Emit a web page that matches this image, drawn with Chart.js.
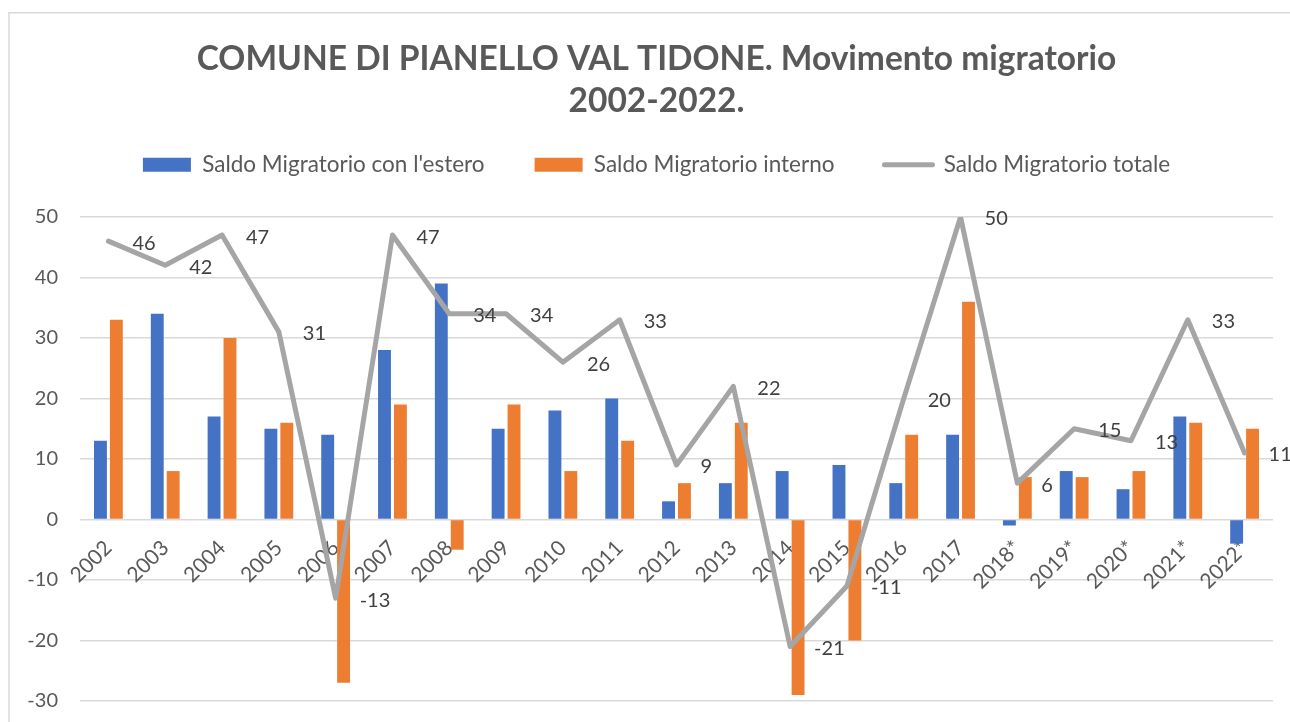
<!DOCTYPE html>
<html><head><meta charset="utf-8">
<script src="https://cdn.jsdelivr.net/npm/chart.js@4"></script>
<style>html,body{margin:0;padding:0;background:#fff}canvas{display:block}</style>
</head><body>
<canvas id="c" width="1290" height="722"></canvas>
<script>
const categories = ['2002','2003','2004','2005','2006','2007','2008','2009','2010','2011','2012','2013','2014','2015','2016','2017','2018*','2019*','2020*','2021*','2022*'];
const saldoEstero = [13,34,17,15,14,28,39,15,18,20,3,6,8,9,6,14,-1,8,5,17,-4];
const saldoInterno = [33,8,30,16,-27,19,-5,19,8,13,6,16,-29,-20,14,36,7,7,8,16,15];
const saldoTotale = [46,42,47,31,-13,47,34,34,26,33,9,22,-21,-11,20,50,6,15,13,33,11];
const yMin = -30, yMax = 50, yStep = 10;
const seriesNames = ["Saldo Migratorio con l'estero", 'Saldo Migratorio interno', 'Saldo Migratorio totale'];

const FONT = 'Lato';
const LEGEND_EXTRA = 31;

const framePlugin = {
  id: 'frame',
  afterInit(chart) {
    const lg = chart.legend;
    if (lg && !lg._wrapped) {
      const orig = lg.fit;
      lg.fit = function () { orig.call(this); this.height += LEGEND_EXTRA; };
      lg._wrapped = true;
    }
  },
  beforeDraw(chart) {
    const ctx = chart.ctx;
    ctx.save();
    ctx.strokeStyle = '#d9d9d9';
    ctx.lineWidth = 1.5;
    ctx.strokeRect(9, 12.75, chart.width + 50, chart.height + 50);
    ctx.restore();
  }
};

const lineLabels = {
  id: 'lineLabels',
  afterDatasetsDraw(chart) {
    const meta = chart.getDatasetMeta(2);
    const ctx = chart.ctx;
    ctx.save();
    ctx.font = '20px ' + FONT;
    ctx.fillStyle = '#404040';
    ctx.textAlign = 'left';
    ctx.textBaseline = 'middle';
    meta.data.forEach((pt, i) => {
      ctx.fillText(String(saldoTotale[i]), pt.x + 24, pt.y + 2);
    });
    ctx.restore();
  }
};

new Chart(document.getElementById('c'), {
  data: {
    labels: categories,
    datasets: [
      { type: 'bar', label: seriesNames[0], data: saldoEstero, backgroundColor: '#4472C4', order: 1,
        categoryPercentage: 0.56, barPercentage: 0.81 },
      { type: 'bar', label: seriesNames[1], data: saldoInterno, backgroundColor: '#ED7D31', order: 1,
        categoryPercentage: 0.56, barPercentage: 0.81 },
      { type: 'line', label: seriesNames[2], data: saldoTotale, borderColor: '#A5A5A5', backgroundColor: '#A5A5A5',
        borderWidth: 5, pointRadius: 0, pointHoverRadius: 0, tension: 0, order: 0, borderJoinStyle: 'round', borderCapStyle: 'round' }
    ]
  },
  options: {
    responsive: false,
    animation: false,
    events: [],
    layout: { padding: { left: 40, right: 17, top: 0, bottom: 21 } },
    plugins: {
      title: {
        display: true,
        text: ['COMUNE DI PIANELLO VAL TIDONE. Movimento migratorio', '2002-2022.'],
        color: '#595959',
        font: { family: FONT, size: 33.5, weight: 'bold', lineHeight: 1.23 },
        padding: { top: 39, bottom: -18 }
      },
      legend: {
        display: true,
        position: 'top',
        labels: {
          usePointStyle: true,
          pointStyleWidth: 48,
          boxHeight: 14,
          padding: 50,
          color: '#595959',
          font: { family: FONT, size: 22.5 },
          generateLabels(chart) {
            return chart.data.datasets.map((ds, i) => {
              const isLine = ds.type === 'line';
              return {
                text: ds.label,
                datasetIndex: i,
                fillStyle: isLine ? ds.borderColor : ds.backgroundColor,
                strokeStyle: isLine ? ds.borderColor : ds.backgroundColor,
                lineWidth: isLine ? 5 : 0,
                lineCap: 'round',
                pointStyle: isLine ? 'line' : 'rect',
                fontColor: '#595959',
                hidden: false
              };
            });
          }
        }
      },
      tooltip: { enabled: false }
    },
    scales: {
      x: {
        position: { y: 0 },
        afterFit(scale) { scale.height = 0; },
        grid: { display: false, drawTicks: false },
        border: { display: false },
        ticks: {
          autoSkip: false, maxRotation: 45, minRotation: 45,
          color: '#595959', font: { family: FONT, size: 21 }, padding: 16
        }
      },
      y: {
        min: yMin, max: yMax,
        afterFit(scale) {
          scale.width = 40;
          scale.paddingTop = 0;
          scale.paddingBottom = 0;
          scale._computeLabelArea = function () { return undefined; };
        },
        grid: { color: '#d9d9d9', lineWidth: 1.5, drawTicks: false },
        border: { display: false },
        ticks: { stepSize: yStep, color: '#595959', font: { family: FONT, size: 20 }, padding: 22 }
      }
    }
  },
  plugins: [framePlugin, lineLabels]
});
</script>
</body></html>
